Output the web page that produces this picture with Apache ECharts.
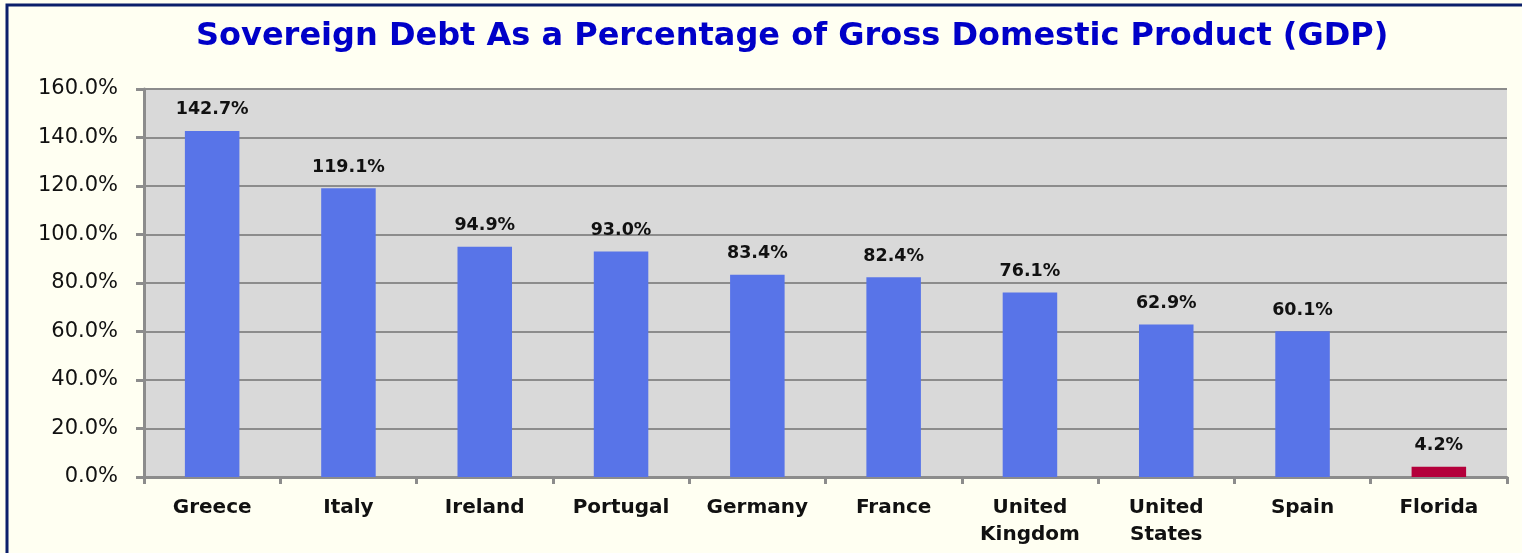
<!DOCTYPE html>
<html>
<head>
<meta charset="utf-8">
<script src="https://cdn.jsdelivr.net/npm/echarts@6/dist/echarts.min.js"></script>
<style>
  html, body { margin: 0; padding: 0; background: #fff; }
  #chart { width: 1522px; height: 553px; }
</style>
</head>
<body>
<div id="chart"></div>
<script>
const countries = ["Greece", "Italy", "Ireland", "Portugal", "Germany", "France",
    "United\nKingdom", "United\nStates", "Spain", "Florida"];
const debtPct = [142.7, 119.1, 94.9, 93.0, 83.4, 82.4, 76.1, 62.9, 60.1, 4.2];
const highlight = "Florida";

const chart = echarts.init(document.getElementById("chart"), null, { renderer: "canvas" });

const option = {
    backgroundColor: "#FFFFF2",
    animation: false,
    title: {
        text: "Sovereign Debt As a Percentage of Gross Domestic Product (GDP)",
        left: 191,
        top: 16,
        textStyle: {
            color: "#0000C8",
            fontFamily: "DejaVu Sans",
            fontWeight: "bold",
            fontSize: 32
        }
    },
    graphic: [{
        type: "rect",
        shape: { x: 7, y: 5, width: 1530, height: 560 },
        style: { fill: "none", stroke: "#0B1F6B", lineWidth: 3 },
        silent: true
    }],
    grid: {
        left: 144,
        right: 15,
        top: 89,
        bottom: 76,
        show: true,
        backgroundColor: "#D9D9D9",
        borderWidth: 0
    },
    xAxis: {
        type: "category",
        data: countries,
        axisLine: { lineStyle: { color: "#8C8C8C", width: 3 } },
        axisTick: { show: true, length: 7, lineStyle: { color: "#8C8C8C", width: 3 } },
        axisLabel: {
            color: "#111",
            fontFamily: "DejaVu Sans",
            fontWeight: "bold",
            fontSize: 20,
            lineHeight: 27,
            margin: 17
        }
    },
    yAxis: {
        type: "value",
        min: 0,
        max: 160,
        interval: 20,
        axisLine: { show: true, lineStyle: { color: "#8C8C8C", width: 3 } },
        axisTick: { show: true, length: 8, lineStyle: { color: "#8C8C8C", width: 3 } },
        splitLine: { lineStyle: { color: "#8C8C8C", width: 2 } },
        axisLabel: {
            color: "#111",
            fontFamily: "DejaVu Sans",
            fontSize: 21,
            margin: 26,
            formatter: function (v) { return v.toFixed(1) + "%"; }
        }
    },
    series: [{
        type: "bar",
        barWidth: "40%",
        data: debtPct.map(function (v, i) {
            return {
                value: v,
                itemStyle: { color: countries[i] === highlight ? "#B4003B" : "#5874E8" }
            };
        }),
        label: {
            show: true,
            position: "top",
            distance: 12,
            color: "#111",
            fontFamily: "DejaVu Sans",
            fontWeight: "bold",
            fontSize: 17.5,
            formatter: function (p) { return p.value.toFixed(1) + "%"; }
        }
    }]
};

chart.setOption(option);
</script>
</body>
</html>
